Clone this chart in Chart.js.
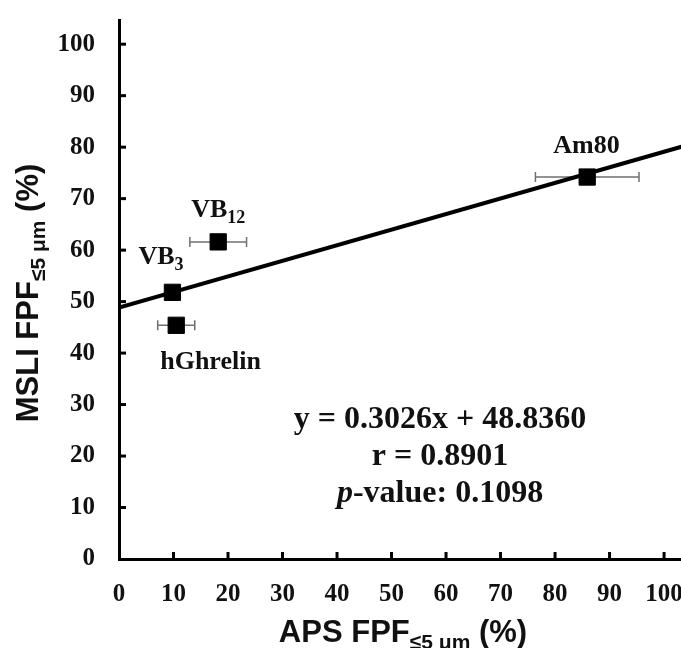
<!DOCTYPE html>
<html>
<head>
<meta charset="utf-8">
<script src="https://cdn.jsdelivr.net/npm/chart.js@4.4.1/dist/chart.umd.min.js"></script>
<style>
  html, body { margin: 0; padding: 0; background: #fff; overflow: hidden; }
  #wrap { width: 681px; height: 648px; position: relative; overflow: hidden; }
  #chart { display: block; }
</style>
</head>
<body>
<div id="wrap"><canvas id="chart" width="694" height="648"></canvas></div>
<script>
// samples (APS vs MSLI fine particle fraction)
const names = ['VB', 'VB', 'Am80', 'hGhrelin'];
const nameSubs = ['3', '12', '', ''];
const apsFpf = [9.8, 18.2, 85.9, 10.5];
const msliFpf = [51.8, 61.6, 74.2, 45.4];
const apsErr = [0.6, 5.2, 9.5, 3.4];

// regression line end points
const fitX = [0, 103.2];
const fitY = [48.84, 80.07];

const xTicks = [0, 10, 20, 30, 40, 50, 60, 70, 80, 90, 100];
const yTicks = [0, 10, 20, 30, 40, 50, 60, 70, 80, 90, 100];

const statLines = ['y = 0.3026x + 48.8360', 'r = 0.8901', 'p-value: 0.1098'];

// label placement relative to each marker (px)
const labelOffsets = [[-34, -28], [-27, -25], [-34, -24], [-16, 44]];

const SERIF = '"Liberation Serif", "Times New Roman", serif';
const SANS = '"Liberation Sans", Arial, sans-serif';

function drawSubText(ctx, x, y, parts) {
    // parts: [text, font, dy]
    let cx = x;
    parts.forEach(p => {
        ctx.font = p[1];
        ctx.fillText(p[0], cx, y + (p[2] || 0));
        cx += ctx.measureText(p[0]).width;
    });
    return cx - x;
}

function measureParts(ctx, parts) {
    let w = 0;
    parts.forEach(p => { ctx.font = p[1]; w += ctx.measureText(p[0]).width; });
    return w;
}

const decorPlugin = {
    id: 'decor',
    beforeDatasetsDraw(chart) {
        const ctx = chart.ctx;
        const xs = chart.scales.x;
        const ys = chart.scales.y;
        ctx.save();
        // horizontal error bars (under the markers)
        ctx.strokeStyle = '#707070';
        ctx.lineWidth = 1.5;
        apsFpf.forEach((v, i) => {
            const py = ys.getPixelForValue(msliFpf[i]);
            const x1 = xs.getPixelForValue(v - apsErr[i]);
            const x2 = xs.getPixelForValue(v + apsErr[i]);
            ctx.beginPath();
            ctx.moveTo(x1, py); ctx.lineTo(x2, py);
            ctx.moveTo(x1, py - 5); ctx.lineTo(x1, py + 5);
            ctx.moveTo(x2, py - 5); ctx.lineTo(x2, py + 5);
            ctx.stroke();
        });
        ctx.restore();
    },
    afterDraw(chart) {
        const ctx = chart.ctx;
        const xs = chart.scales.x;
        const ys = chart.scales.y;
        const area = chart.chartArea;
        ctx.save();

        // inward tick marks
        ctx.strokeStyle = '#000';
        ctx.lineWidth = 3;
        xTicks.slice(1).forEach(v => {
            const px = xs.getPixelForValue(v);
            ctx.beginPath();
            ctx.moveTo(px, area.bottom);
            ctx.lineTo(px, area.bottom - 7);
            ctx.stroke();
        });
        yTicks.slice(1).forEach(v => {
            const py = ys.getPixelForValue(v);
            ctx.beginPath();
            ctx.moveTo(area.left, py);
            ctx.lineTo(area.left + 7, py);
            ctx.stroke();
        });

        ctx.fillStyle = '#111';
        ctx.textBaseline = 'alphabetic';
        ctx.textAlign = 'left';

        // point labels
        names.forEach((n, i) => {
            const px = xs.getPixelForValue(apsFpf[i]) + labelOffsets[i][0];
            const py = ys.getPixelForValue(msliFpf[i]) + labelOffsets[i][1];
            const parts = [[n, 'bold 26px ' + SERIF]];
            if (nameSubs[i]) parts.push([nameSubs[i], 'bold 18px ' + SERIF, 6]);
            drawSubText(ctx, px, py, parts);
        });

        // statistics block
        const cx = xs.getPixelForValue(58.9);
        const statY = [25.4, 18.3, 11.1];
        const statFont = 'bold 32px ' + SERIF;
        statLines.forEach((t, i) => {
            const py = ys.getPixelForValue(statY[i]);
            let parts;
            if (t.startsWith('p-')) {
                parts = [['p', 'italic bold 32px ' + SERIF], [t.slice(1), statFont]];
            } else {
                parts = [[t, statFont]];
            }
            const w = measureParts(ctx, parts);
            drawSubText(ctx, cx - w / 2, py, parts);
        });

        // axis titles
        const titleFont = 'bold 31px ' + SANS;
        const subFont = 'bold 21px ' + SANS;
        const mkTitle = pre => [[pre + ' FPF', titleFont], ['\u22645 \u03bcm', subFont, 7], [' (%)', titleFont]];

        const xParts = mkTitle('APS');
        const xw = measureParts(ctx, xParts);
        drawSubText(ctx, 403 - xw / 2, 642, xParts);

        const yParts = mkTitle('MSLI');
        const yw = measureParts(ctx, yParts);
        ctx.translate(38, 293);
        ctx.rotate(-Math.PI / 2);
        drawSubText(ctx, -yw / 2, 0, yParts);
        ctx.restore();
    }
};

const tickFont = { family: SERIF, size: 25, weight: 'bold' };

new Chart(document.getElementById('chart'), {
    type: 'scatter',
    data: {
        datasets: [
            {
                type: 'line',
                data: fitX.map((x, i) => ({ x: x, y: fitY[i] })),
                borderColor: '#000',
                borderWidth: 4,
                pointRadius: 0,
                fill: false,
                order: 2
            },
            {
                data: apsFpf.map((x, i) => ({ x: x, y: msliFpf[i] })),
                pointStyle: 'rect',
                pointRadius: 11.5,
                backgroundColor: '#000',
                borderColor: '#000',
                borderWidth: 1,
                order: 1
            }
        ]
    },
    options: {
        responsive: false,
        animation: false,
        layout: { padding: { top: 20, right: 0, left: 0, bottom: 0 } },
        plugins: {
            legend: { display: false },
            tooltip: { enabled: false }
        },
        scales: {
            x: {
                type: 'linear',
                min: 0,
                max: 103.2,
                afterBuildTicks: axis => { axis.ticks = xTicks.map(v => ({ value: v })); },
                afterFit: axis => {
                    axis.height = 89;
                    axis.paddingLeft = 0;
                    axis.paddingRight = 0;
                },
                grid: { display: false },
                border: { display: true, color: '#000', width: 3 },
                ticks: { color: '#111', font: tickFont, padding: 13, maxRotation: 0, autoSkip: false }
            },
            y: {
                type: 'linear',
                min: 0,
                max: 104.7,
                afterBuildTicks: axis => { axis.ticks = yTicks.map(v => ({ value: v })); },
                afterFit: axis => {
                    axis.width = 119;
                    axis.paddingTop = 0;
                    axis.paddingBottom = 0;
                },
                grid: { display: false },
                border: { display: true, color: '#000', width: 3 },
                ticks: { color: '#111', font: tickFont, padding: 16, autoSkip: false }
            }
        }
    },
    plugins: [decorPlugin]
});
</script>
</body>
</html>
